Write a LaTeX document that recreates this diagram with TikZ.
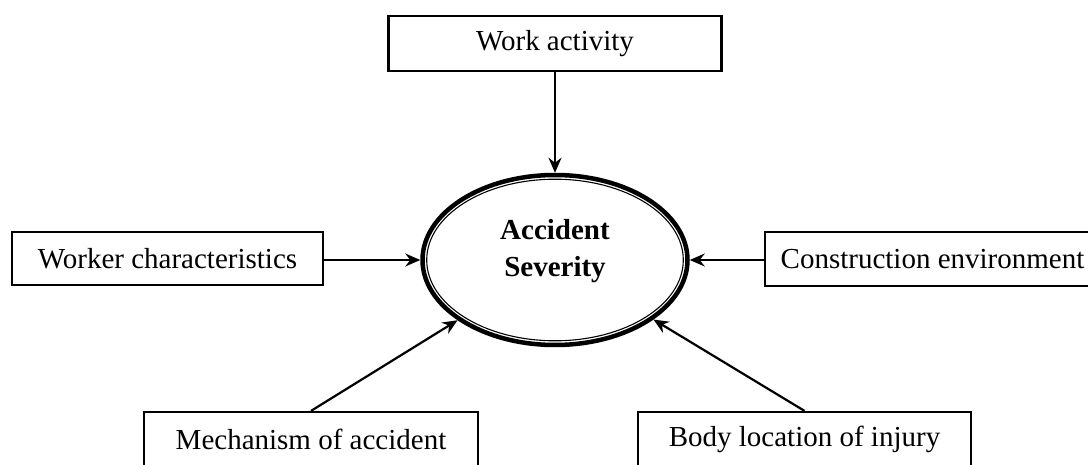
\documentclass[tikz,border=0pt]{standalone}
\usepackage{fontspec}
\setmainfont{Liberation Serif}
\usetikzlibrary{shapes.geometric,arrows.meta}
\begin{document}
\begin{tikzpicture}[x=1pt,y=-1pt,
  box/.style={draw,line width=2.2pt,rectangle,inner sep=0pt,minimum height=55pt,font=\fontsize{29}{34}\selectfont},
  arr/.style={line width=2.2pt,-{Stealth[length=15pt,width=13pt,inset=5pt]}}]
\useasboundingbox (0,0) rectangle (1088,465);
\begin{scope}
\clip (0,0) rectangle (1088,465);
\node[box,minimum width=333pt] (work) at (555,43.5) {Work activity};
\node[box,minimum width=311pt,minimum height=53pt] (worker) at (167.5,258.5) {Worker characteristics};
\node[box,minimum width=335pt,minimum height=54pt] (constr) at (932.5,259) {Construction environment};
\node[box,minimum width=334pt] (mech) at (311,439.5) {Mechanism of accident};
\node[box,minimum width=333pt] (body) at (804.5,439.5) {Body location of injury};
\node[draw,ellipse,line width=4.5pt,inner sep=0pt,minimum width=265pt,minimum height=170pt,
  align=center,text depth=24pt,font=\fontsize{29}{37}\selectfont\bfseries] (sev) at (555,260) {Accident\\Severity};
\draw[line width=1.1pt] (sev.center) ellipse (128.3pt and 80.8pt);
\draw[arr] (work.south) -- (sev.north);
\draw[arr] (worker.east |- sev.center) -- (sev.west);
\draw[arr] (constr.west |- sev.center) -- (sev.east);
\draw[arr] (mech.north) -- (sev);
\draw[arr] (body.north) -- (sev);
\end{scope}
\end{tikzpicture}
\end{document}
